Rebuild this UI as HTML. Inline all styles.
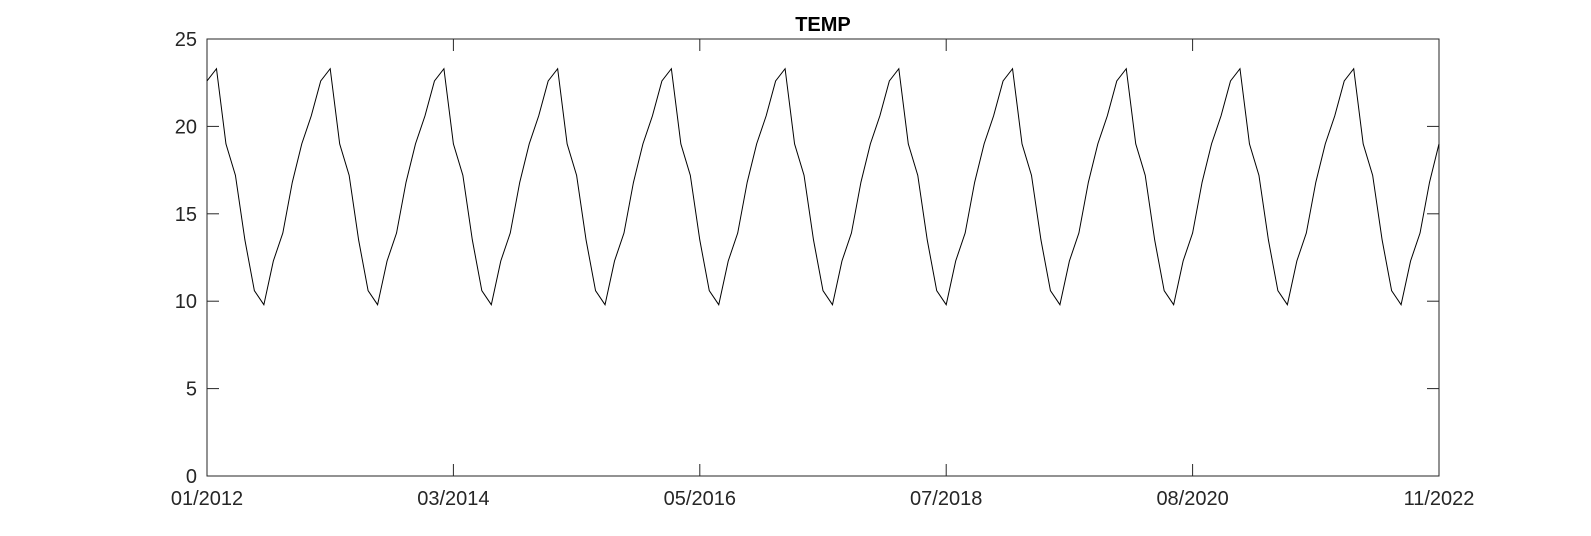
<!DOCTYPE html>
<html><head><meta charset="utf-8"><style>
body{margin:0;background:#fff;}
svg{display:block;font-family:"Liberation Sans",Arial,sans-serif;}
</style></head><body>
<svg id="chart" width="1591" height="536"></svg>
<script>
const temps=[
22.6,23.3,19.0,17.2,13.5,10.6,9.8,12.3,13.9,16.8,19.0,20.6,
22.6,23.3,19.0,17.2,13.5,10.6,9.8,12.3,13.9,16.8,19.0,20.6,
22.6,23.3,19.0,17.2,13.5,10.6,9.8,12.3,13.9,16.8,19.0,20.6,
22.6,23.3,19.0,17.2,13.5,10.6,9.8,12.3,13.9,16.8,19.0,20.6,
22.6,23.3,19.0,17.2,13.5,10.6,9.8,12.3,13.9,16.8,19.0,20.6,
22.6,23.3,19.0,17.2,13.5,10.6,9.8,12.3,13.9,16.8,19.0,20.6,
22.6,23.3,19.0,17.2,13.5,10.6,9.8,12.3,13.9,16.8,19.0,20.6,
22.6,23.3,19.0,17.2,13.5,10.6,9.8,12.3,13.9,16.8,19.0,20.6,
22.6,23.3,19.0,17.2,13.5,10.6,9.8,12.3,13.9,16.8,19.0,20.6,
22.6,23.3,19.0,17.2,13.5,10.6,9.8,12.3,13.9,16.8,19.0,20.6,
22.6,23.3,19.0,17.2,13.5,10.6,9.8,12.3,13.9,16.8,19.0];
const xTickIdx=[0,26,52,78,104,130];
const xTickLabels=["01/2012","03/2014","05/2016","07/2018","08/2020","11/2022"];
const yTicks=[0,5,10,15,20,25];

const NS="http://www.w3.org/2000/svg";
const svg=document.getElementById('chart');
const L=207,R=1439,T=39,B=476;
const xs=i=>L+(R-L)*i/(temps.length-1);
const ys=v=>B-(B-T)*v/25;
function mk(tag,attrs,parent){const e=document.createElementNS(NS,tag);for(const k in attrs)e.setAttribute(k,attrs[k]);(parent||svg).appendChild(e);return e;}

const frame=mk('rect',{x:L,y:T,width:R-L,height:B-T,fill:'#fff',stroke:'#262626','stroke-width':1});



yTicks.forEach(v=>{
  const y=ys(v);
  const t1=mk('line',{x1:L,x2:L+12,y1:y,y2:y,stroke:'#262626'});
  
  
  const t2=mk('line',{x1:R-12,x2:R,y1:y,y2:y,stroke:'#262626'});
  
  
  const tx=mk('text',{x:L-10,y:y+7,'text-anchor':'end','font-size':20,fill:'#262626'});
  tx.textContent=v;
  
  
});
xTickIdx.forEach((idx,k)=>{
  const x=xs(idx);
  const t1=mk('line',{x1:x,x2:x,y1:B,y2:B-12,stroke:'#262626'});
  
  
  const t2=mk('line',{x1:x,x2:x,y1:T,y2:T+12,stroke:'#262626'});
  
  
  const tx=mk('text',{x:x,y:B+29,'text-anchor':'middle','font-size':20,fill:'#262626'});
  tx.textContent=xTickLabels[k];
  
  
});
const pts=temps.map((v,i)=>xs(i).toFixed(2)+','+ys(v).toFixed(2)).join(' ');
const line=mk('polyline',{points:pts,fill:'none',stroke:'#000','stroke-width':1});


const title=mk('text',{x:(L+R)/2,y:31,'text-anchor':'middle','font-size':20,'font-weight':'bold',fill:'#000'});
title.textContent='TEMP';


</script>
</body></html>
